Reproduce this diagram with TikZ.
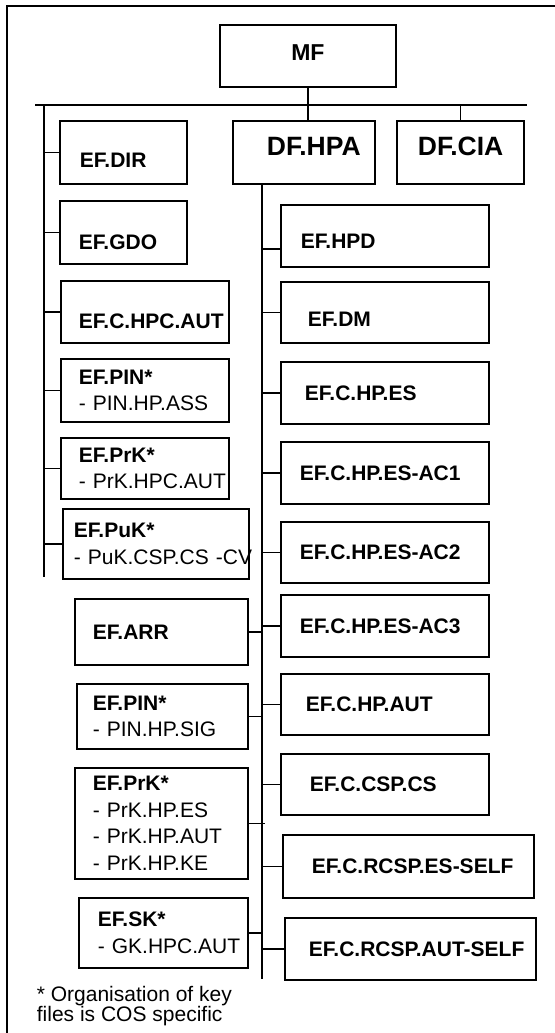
\documentclass[tikz,border=0pt]{standalone}
\usepackage{fontspec}
\setmainfont{Liberation Sans}
\usetikzlibrary{positioning,calc}
\hyphenpenalty=10000
\exhyphenpenalty=10000

\begin{document}
\begin{tikzpicture}[
  x=1pt, y=-1pt,
  line width=1.8pt,
  mainbox/.style={rectangle, draw, anchor=north west, inner sep=0pt,
                  minimum width=176pt, minimum height=62pt,
                  font=\fontsize{23}{28}\selectfont\bfseries},
  dfbox/.style={rectangle, draw, anchor=north west, align=left, inner sep=0pt,
                minimum height=63pt, text depth=12pt,
                font=\fontsize{26.5}{30}\selectfont\bfseries},
  filebox/.style={rectangle, draw, anchor=north west, align=left, inner sep=0pt,
                  font=\fontsize{21}{26.5}\selectfont\bfseries},
  rbox/.style={filebox, minimum width=208pt, minimum height=62pt},
  note/.style={anchor=north west, align=left, inner sep=0pt,
               font=\fontsize{21}{20}\selectfont}
]
  \useasboundingbox (0,0) rectangle (554,1033);

  % outer frame, open to the right and bottom
  \draw (7,1045) -- (7,6) -- (565,6);

  % top level
  \node[mainbox, text depth=6pt] (mf) at (219,24) {MF};
  \node[dfbox, minimum width=142pt, text width=74pt] (hpa) at (232,120) {DF.HPA};
  \node[dfbox, minimum width=127pt, text width=85pt] (cia) at (396,120) {DF.CIA};

  \coordinate (busl) at (35,105);
  \coordinate (busr) at (527,105);
  \coordinate (lspine) at (44,105);
  \coordinate (lspine-end) at (44,577);
  \coordinate (rspine) at (262,183);
  \coordinate (rspine-end) at (262,979);

  % files below MF
  \node[filebox, minimum width=127pt, minimum height=63pt, text width=87pt, text height=31pt] (dir) at (59,120) {EF.DIR};
  \node[filebox, minimum width=127pt, minimum height=63pt, text width=89pt, text height=34pt] (gdo) at (59,200) {EF.GDO};
  \node[filebox, minimum width=168pt, minimum height=62pt, text width=132pt, text height=33pt] (chpc) at (60,280) {EF.C.HPC.AUT};
  \node[filebox, minimum width=168pt, minimum height=63pt, text width=132pt] (pin) at (60,358) {EF.PIN*\\{\mdseries -~PIN.HP.ASS}};
  \node[filebox, minimum width=168pt, minimum height=61pt, text width=132pt] (prk) at (60,437) {EF.PrK*\\{\mdseries -~PrK.HPC.AUT}};
  \node[filebox, minimum width=186pt, minimum height=70pt, text width=164pt] (puk) at (62,508) {EF.PuK*\\{\mdseries -~PuK.CSP.CS~-CV}};

  % files below DF.HPA, left side
  \node[filebox, minimum width=173pt, minimum height=66pt, text width=137pt] (arr) at (74,598) {EF.ARR};
  \node[filebox, minimum width=171pt, minimum height=65pt, text width=139pt] (pin2) at (76,683) {EF.PIN*\\{\mdseries -~PIN.HP.SIG}};
  \node[filebox, minimum width=173pt, minimum height=111pt, text width=137pt] (prk2) at (74,767) {EF.PrK*\\{\mdseries -~PrK.HP.ES}\\{\mdseries -~PrK.HP.AUT}\\{\mdseries -~PrK.HP.KE}};
  \node[filebox, minimum width=169pt, minimum height=70pt, text width=131pt] (sk) at (78,897) {EF.SK*\\{\mdseries -~GK.HPC.AUT}};

  % files below DF.HPA, right side
  \node[rbox, text width=168pt, text height=25pt] (hpd) at (280,204) {EF.HPD};
  \node[rbox, minimum height=61pt, text width=154pt, text height=28pt] (dm) at (280,281) {EF.DM};
  \node[rbox, text width=160pt] (es) at (280,361) {EF.C.HP.ES};
  \node[rbox, text width=170pt] (ac1) at (280,441) {EF.C.HP.ES-AC1};
  \node[rbox, minimum height=61pt, text width=170pt] (ac2) at (280,521) {EF.C.HP.ES-AC2};
  \node[rbox, text width=170pt] (ac3) at (280,594) {EF.C.HP.ES-AC3};
  \node[rbox, minimum height=61pt, text width=158pt] (hpaut) at (280,673) {EF.C.HP.AUT};
  \node[rbox, minimum height=61pt, text width=150pt] (csp) at (280,753) {EF.C.CSP.CS};
  \node[rbox, minimum width=251pt, minimum height=63pt, text width=193pt] (rcspes) at (282,834) {EF.C.RCSP.ES-SELF};
  \node[rbox, minimum width=251pt, text width=203pt] (rcspaut) at (284,917) {EF.C.RCSP.AUT-SELF};

  \node[note] (fn) at (36,985) {* Organisation of key\\files is COS specific};

  % connectors
  \draw (busl) -- (busr);
  \draw (mf.south) -- (mf.south |- hpa.north);
  \draw (cia.north) -- (cia.north |- busl);
  \draw (lspine) -- (lspine-end);
  \draw (rspine |- hpa.south) -- (rspine-end);
  \foreach \n in {dir,gdo,chpc,pin,prk,puk}
    \draw (\n.west) -- (\n.west -| lspine);
  \draw ([yshift=-13pt]hpd.west) -- ([yshift=-13pt]hpd.west -| rspine);
  \foreach \n in {dm,es,ac1,ac2,ac3,hpaut,csp,rcspes,rcspaut}
    \draw (\n.west) -- (\n.west -| rspine);
  \foreach \n in {arr,pin2,sk}
    \draw (\n.east) -- (\n.east -| rspine);
  \draw (prk2.east) -- ([xshift=3pt]prk2.east -| rspine);
\end{tikzpicture}
\end{document}
